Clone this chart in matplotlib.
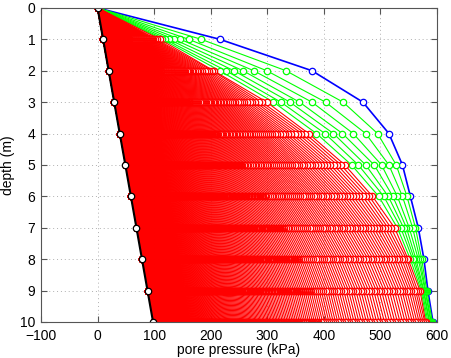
import numpy as np
import matplotlib
matplotlib.use("Agg")
import matplotlib.pyplot as plt

# ---- data ----
depth = [0, 1, 2, 3, 4, 5, 6, 7, 8, 9, 10]
hydrostatic = [0, 9.8, 19.6, 29.4, 39.2, 49.1, 58.9, 68.7, 78.5, 88.3, 98.1]
initial = [0, 216, 379, 469, 515, 539, 553, 567, 577, 584, 593]
green_curves = [
    [0, 183, 333, 434, 495, 528, 547, 562, 573, 582, 592],
    [0, 161, 299, 403, 474, 515, 539, 557, 570, 580, 590],
    [0, 146, 276, 379, 452, 502, 530, 551, 567, 579, 589],
    [0, 135, 257, 357, 433, 489, 522, 546, 563, 577, 587],
    [0, 126, 241, 340, 417, 474, 514, 541, 560, 576, 586],
    [0, 119, 227, 324, 402, 461, 506, 536, 557, 574, 584],
    [0, 114, 216, 311, 387, 449, 497, 530, 553, 572, 582],
]
red_first = [0, 110, 205, 299, 373, 437, 486, 525, 549, 570, 580]
n_red = 520          # number of red (later-time) profiles
lam_step = 0.25      # diffusion number per sub-step
sub_steps = 2        # sub-steps between plotted red profiles
n_red_open = 45      # early red profiles whose circles show a white interior

# ---- red profiles: continue dissipation of excess pressure from red_first ----
hyd = np.array(hydrostatic, float)
u = np.array(red_first, float) - hyd
red_curves = []
for k in range(n_red):
    red_curves.append(hyd + u)
    for s in range(sub_steps):
        un = u.copy()
        for i in range(1, len(u)):
            up = u[i + 1] if i + 1 < len(u) else u[i - 1]
            un[i] = u[i] + lam_step * (up - 2 * u[i] + u[i - 1])
        un[0] = 0.0
        u = un

plt.rcParams['font.family'] = ['Liberation Sans', 'DejaVu Sans']
fig = plt.figure(figsize=(4.52, 3.58), dpi=100)
ax = fig.add_axes([0.0907, 0.1006, 0.876, 0.8774])

mk = dict(marker='o', markersize=4.6, markeredgewidth=0.9)
ax.plot(initial, depth, color='#0000ff', lw=1.2, markeredgecolor='#0000ff',
        markerfacecolor='white', **mk)
for g in green_curves:
    ax.plot(g, depth, color='#00ff00', lw=0.8, markeredgecolor='#00ff00',
            markerfacecolor='white', **mk)
for k, r in enumerate(red_curves):
    ax.plot(r, depth, color='#ff0000', lw=0.8, markeredgecolor='#ff0000',
            markerfacecolor='white' if k < n_red_open else 'none', **mk)
ax.plot(hydrostatic, depth, color='black', lw=1.5, markeredgecolor='black',
        markerfacecolor='white', **mk)

ax.set_xlim(-100, 600)
ax.set_ylim(10, 0)
ax.set_xticks(range(-100, 601, 100))
ax.set_yticks(range(0, 11))
ax.set_xlabel('pore pressure (kPa)', fontsize=10, labelpad=0)
ax.set_ylabel('depth (m)', fontsize=10, labelpad=4)
ax.tick_params(direction='in', top=True, right=True, labelsize=10, length=4,
               color='#555555')
ax.tick_params(axis='x', pad=5)
ax.tick_params(axis='y', pad=4)
ax.grid(True, linestyle=(0, (1, 3)), color='#b0b0b0', lw=0.7)
ax.set_axisbelow(True)
for sp in ax.spines.values():
    sp.set_color('#555555')
    sp.set_linewidth(0.8)

fig.savefig('out.png', dpi=100)
